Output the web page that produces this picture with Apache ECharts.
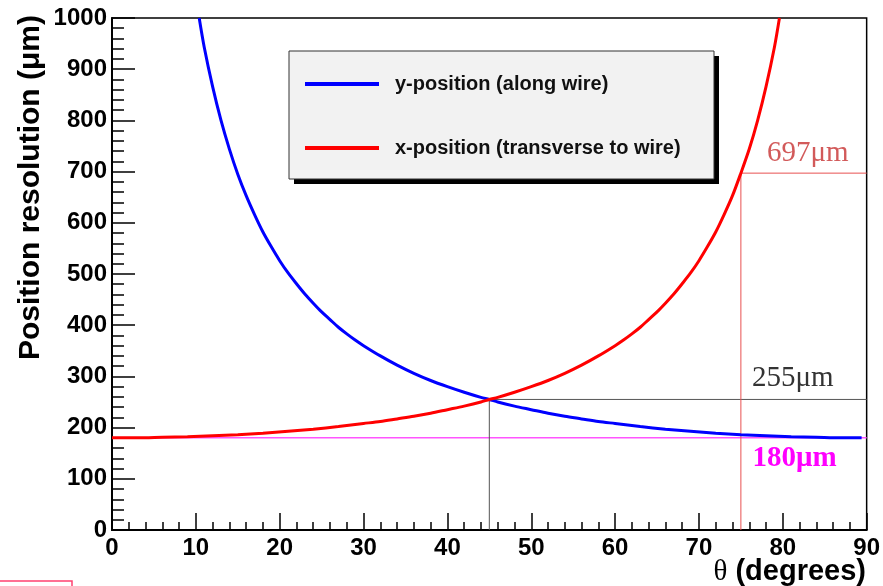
<!DOCTYPE html>
<html>
<head>
<meta charset="utf-8">
<script src="https://cdn.jsdelivr.net/npm/echarts@6/dist/echarts.min.js"></script>
<style>
  html, body { margin: 0; padding: 0; background: #fff; }
  #chart { width: 883px; height: 586px; }
</style>
</head>
<body>
<div id="chart"></div>
<script>
// y-position resolution (along wire)
var yPosTheta = [10.4, 11, 12, 13, 14, 15, 16, 17, 18, 19, 20, 21, 22, 23, 24, 25, 26, 27, 28, 29, 30,
  32, 34, 36, 38, 40, 42, 44, 45, 46, 48, 50, 52, 54, 56, 58, 60, 63, 66, 69, 72, 75, 78, 81, 84, 87, 89.4];
var yPosRes = [1000, 943, 866, 800, 744, 695, 653, 616, 582, 553, 526, 502, 481, 461, 443, 426, 411, 396, 383, 371, 360,
  340, 322, 306, 292, 280, 269, 259, 255, 250, 242, 235, 228, 222, 217, 212, 208, 202, 197, 193, 189, 186, 184, 182, 181, 180, 180];

// x-position resolution (transverse to wire)
var xPosTheta = [0, 3, 6, 9, 12, 15, 18, 21, 24, 27, 30, 32, 34, 36, 38, 40, 42, 44, 45, 46, 48, 50,
  52, 54, 56, 58, 60, 61, 62, 63, 64, 65, 66, 67, 68, 69, 70, 71, 72, 73, 74, 75, 76, 77, 78, 79, 79.6];
var xPosRes = [180, 180, 181, 182, 184, 186, 189, 193, 197, 202, 208, 212, 217, 222, 228, 235, 242, 250, 255, 259, 269, 280,
  292, 306, 322, 340, 360, 371, 383, 396, 411, 426, 443, 461, 481, 502, 526, 553, 582, 616, 653, 697, 744, 800, 866, 943, 1000];

// reference markers
var floorRes = 180;
var crossTheta = 45, crossRes = 255;
var refTheta = 75, refRes = 697;
var thetaMax = 90;

var seriesNames = ['y-position (along wire)', 'x-position (transverse to wire)'];

function pairs(xs, ys) {
  return xs.map(function (x, i) { return [x, ys[i]]; });
}

var chart = echarts.init(document.getElementById('chart'));

var labelFont = 'Liberation Serif';
var tickFont = { color: '#000', fontFamily: 'Liberation Sans', fontWeight: 'bold', fontSize: 24 };

// thin guide line drawn as a line series, labelled at its right end
function guide(name, pts, color, width, labelText, labelStyle, dist, dy) {
  return {
    name: name, type: 'line', z: 1, silent: true,
    data: pts, showSymbol: false, smooth: false,
    lineStyle: { color: color, width: width },
    itemStyle: { color: color },
    markPoint: {
      symbol: 'circle', symbolSize: 0, silent: true, animation: false,
      data: [{
        coord: pts[pts.length - 1],
        label: Object.assign({
          show: true, position: 'left', distance: dist, offset: [0, dy],
          formatter: labelText, fontFamily: labelFont, fontSize: 29
        }, labelStyle)
      }]
    }
  };
}

var option = {
  backgroundColor: '#ffffff',
  animation: false,
  grid: {
    left: 112, right: 15, top: 18, bottom: 56,
    show: true, borderColor: '#000', borderWidth: 1.5, backgroundColor: 'transparent'
  },
  legend: {
    orient: 'vertical',
    left: 305, top: 73,
    data: seriesNames,
    icon: 'rect',
    itemWidth: 74, itemHeight: 4,
    itemGap: 42,
    padding: 0,
    textStyle: {
      fontFamily: 'Liberation Sans', fontWeight: 'bold', fontSize: 20,
      color: '#111', lineHeight: 22, padding: [0, 0, 0, 11]
    }
  },
  xAxis: {
    type: 'value', min: 0, max: thetaMax, interval: 10,
    axisLine: { onZero: false, lineStyle: { color: '#000', width: 2 } },
    axisTick: { inside: true, length: 17, lineStyle: { color: '#000', width: 1.5 } },
    minorTick: { show: true, splitNumber: 5, length: 8, lineStyle: { color: '#000', width: 1.5 } },
    splitLine: { show: false },
    axisLabel: Object.assign({ margin: 6 }, tickFont)
  },
  yAxis: {
    type: 'value', min: 0, max: 1000, interval: 100,
    axisLine: { onZero: false, lineStyle: { color: '#000', width: 2 } },
    axisTick: { inside: true, length: 23, lineStyle: { color: '#000', width: 1.5 } },
    minorTick: { show: true, splitNumber: 5, length: 12, lineStyle: { color: '#000', width: 1.5 } },
    splitLine: { show: false },
    axisLabel: Object.assign({ margin: 5, formatter: function (v) { return String(v); } }, tickFont)
  },
  graphic: [
    // legend frame with hard drop shadow
    {
      type: 'rect', z: 0, shape: { x: 294, y: 56, width: 425, height: 128 },
      style: { fill: '#000' }
    },
    {
      type: 'rect', z: 1, shape: { x: 289, y: 51, width: 425, height: 128 },
      style: { fill: '#f2f2f2', stroke: '#333', lineWidth: 1 }
    },
    {
      type: 'text', x: 31, y: 15, rotation: Math.PI / 2,
      style: {
        text: 'Position resolution (\u03bcm)', align: 'right', verticalAlign: 'middle',
        font: 'bold 30px "Liberation Sans"', fill: '#000'
      }
    },
    {
      type: 'text', x: 866, y: 572,
      style: {
        text: '{t|\u03b8}{d|\u00a0(degrees)}', align: 'right', verticalAlign: 'middle',
        rich: {
          t: { fontFamily: 'Liberation Serif', fontSize: 29, fill: '#000' },
          d: { fontFamily: 'Liberation Sans', fontWeight: 'bold', fontSize: 29, fill: '#000' }
        }
      }
    },
    {
      type: 'rect', shape: { x: -2, y: 581, width: 74, height: 20 },
      style: { fill: 'none', stroke: '#ff4070', lineWidth: 1.5 }
    }
  ],
  series: [
    guide('floor', [[0, floorRes], [thetaMax, floorRes]], '#ff55ff', 1.5,
      floorRes + '\u03bcm', { color: '#ff00ff', fontWeight: 'bold' }, 30, 21),
    guide('cross', [[crossTheta, 0], [crossTheta, crossRes], [thetaMax, crossRes]], '#555', 1,
      crossRes + '\u03bcm', { color: '#333' }, 33, -21),
    guide('ref', [[refTheta, 0], [refTheta, refRes], [thetaMax, refRes]], '#e85050', 1,
      refRes + '\u03bcm', { color: '#d25a5a' }, 18, -20),
    {
      name: seriesNames[0], type: 'line', z: 3,
      data: pairs(yPosTheta, yPosRes),
      showSymbol: false, smooth: 0.3,
      lineStyle: { color: '#0000ff', width: 3 },
      itemStyle: { color: '#0000ff' }
    },
    {
      name: seriesNames[1], type: 'line', z: 3,
      data: pairs(xPosTheta, xPosRes),
      showSymbol: false, smooth: 0.3,
      lineStyle: { color: '#ff0000', width: 3 },
      itemStyle: { color: '#ff0000' }
    }
  ]
};

chart.setOption(option);
</script>
</body>
</html>
